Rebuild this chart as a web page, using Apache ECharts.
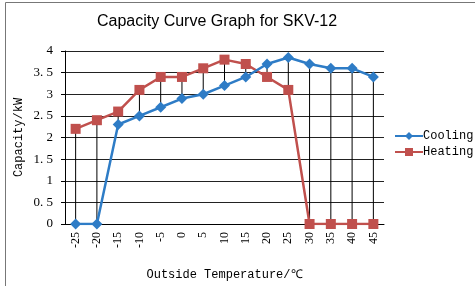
<!DOCTYPE html>
<html>
<head>
<meta charset="utf-8">
<script src="https://cdn.jsdelivr.net/npm/echarts@6/dist/echarts.min.js"></script>
<style>
  html, body { margin: 0; padding: 0; background: #fff; }
  #chart { width: 475px; height: 286px; }
</style>
</head>
<body>
<div id="chart"></div>
<script>
const temps = ['-25', '-20', '-15', '-10', '-5', '0', '5', '10', '15', '20', '25', '30', '35', '40', '45']
const cooling = [0, 0, 2.3, 2.5, 2.7, 2.9, 3.0, 3.2, 3.4, 3.7, 3.85, 3.7, 3.6, 3.6, 3.4]
const heating = [2.2, 2.4, 2.6, 3.1, 3.4, 3.4, 3.6, 3.8, 3.7, 3.4, 3.1, 0, 0, 0, 0]

const mono = '"Liberation Mono", monospace'
const serif = '"Liberation Serif", serif'

// high-low line for each category
const hiLo = temps.map((t, i) => [i, Math.min(cooling[i], heating[i]), Math.max(cooling[i], heating[i])])

const chart = echarts.init(document.getElementById('chart'))

chart.setOption({
  animation: false,
  backgroundColor: '#fff',
  title: {
    text: 'Capacity Curve Graph for SKV-12',
    left: 212,
    textAlign: 'center',
    top: 9,
    textStyle: { fontFamily: 'Arial, "Liberation Sans", sans-serif', fontSize: 16, fontWeight: 'normal', color: '#000' }
  },
  graphic: [{
    type: 'rect',
    shape: { x: 5.5, y: 2.5, width: 480, height: 290 },
    style: { fill: 'none', stroke: '#777', lineWidth: 1 }
  }],
  legend: {
    orient: 'vertical',
    left: 389,
    top: 125,
    itemWidth: 28,
    itemHeight: 10,
    itemGap: 4,
    textStyle: { fontFamily: mono, fontSize: 12, color: '#000', padding: [0, 0, 0, -5] },
    data: ['Cooling', 'Heating']
  },
  grid: { left: 65, right: 91, top: 51, bottom: 58 },
  xAxis: {
    type: 'category',
    data: temps,
    boundaryGap: true,
    name: 'Outside Temperature/℃',
    nameLocation: 'middle',
    nameGap: 45,
    nameMoveOverlap: false,
    nameTextStyle: { fontFamily: mono, fontSize: 12, color: '#000' },
    axisLine: { lineStyle: { color: '#000', width: 1 } },
    axisTick: { show: false },
    axisLabel: { rotate: 90, fontFamily: serif, fontSize: 12, color: '#000', margin: 8 },
    splitLine: { show: false }
  },
  yAxis: {
    type: 'value',
    min: 0,
    max: 4,
    interval: 0.5,
    name: 'Capacity/kW',
    nameLocation: 'middle',
    nameGap: 40,
    nameMoveOverlap: false,
    nameTextStyle: { fontFamily: mono, fontSize: 12, color: '#000' },
    axisLine: { show: true, lineStyle: { color: '#000', width: 1 } },
    axisTick: { show: true, length: 4, lineStyle: { color: '#000' } },
    axisLabel: {
      fontFamily: serif, fontSize: 13, color: '#000', margin: 12,
      formatter: v => String(v).replace('.', '. ')
    },
    splitLine: { lineStyle: { color: '#222', width: 1 } }
  },
  series: [
    {
      type: 'custom',
      silent: true,
      z: 1,
      data: hiLo,
      renderItem: (params, api) => {
        const top = api.coord([api.value(0), api.value(2)])
        const bot = api.coord([api.value(0), api.value(1)])
        return {
          type: 'line',
          shape: { x1: top[0], y1: top[1], x2: bot[0], y2: bot[1] },
          style: { stroke: '#000', lineWidth: 1 }
        }
      }
    },
    {
      name: 'Cooling',
      type: 'line',
      z: 3,
      data: cooling,
      symbol: 'diamond',
      symbolSize: 11,
      lineStyle: { color: '#2e7cc6', width: 2.5 },
      itemStyle: { color: '#2e7cc6' }
    },
    {
      name: 'Heating',
      type: 'line',
      z: 2,
      data: heating,
      symbol: 'rect',
      symbolSize: 10,
      lineStyle: { color: '#c0504d', width: 2.5 },
      itemStyle: { color: '#c0504d' }
    }
  ]
})
</script>
</body>
</html>
